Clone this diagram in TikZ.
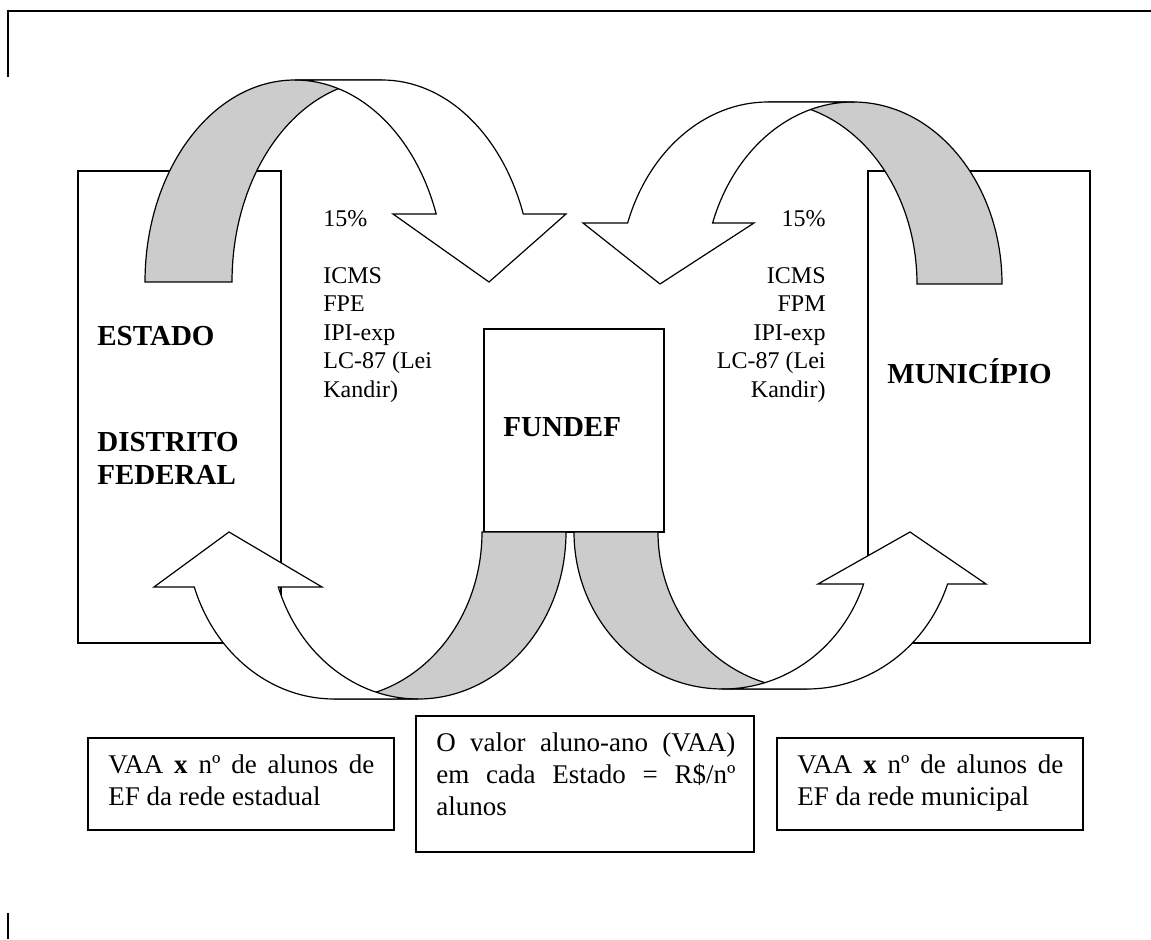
\documentclass[tikz,border=0pt]{standalone}
\usepackage{fontspec}
\setmainfont{Liberation Serif}

\begin{document}
\begin{tikzpicture}[x=0.5pt,y=0.5pt,
  frame/.style={line width=1pt},
  box/.style={line width=0.9pt},
  back/.style={draw,fill=black!20,line width=0.6pt},
  front/.style={draw,fill=white,line width=0.6pt},
  lst/.style={inner sep=0pt,font=\fontsize{12}{14.25}\selectfont},
  lbl/.style={inner sep=0pt,align=left,font=\fontsize{14.5}{16.5}\selectfont\bfseries},
  note/.style={inner sep=0pt,align=justify,font=\fontsize{13.5}{16}\selectfont}]
\useasboundingbox (0,0) rectangle (1151,939);

\draw[frame] (8,862) -- (8,928) -- (1151,928);
\draw[frame] (8,26) -- (8,0);

\draw[box] (78,296) rectangle (281,768);
\draw[box] (868,296) rectangle (1090,768);
\draw[box] (484,407) rectangle (664,610);
\draw[box] (88,109) rectangle (394,201);
\draw[box] (416,87) rectangle (754,223);
\draw[box] (777,109) rectangle (1083,201);

% estado -> fundef
\draw[back] (145,657) arc[start angle=180,end angle=90,x radius=75pt,y radius=101pt]
  -- (382,859) arc[start angle=90,end angle=180,x radius=75pt,y radius=101pt] -- cycle;
\draw[front] (295,859) -- (382,859) arc[start angle=90,end angle=19.67,x radius=75pt,y radius=101pt]
  -- (566,725) -- (489,657) -- (393,725) -- (436.2,725)
  arc[start angle=19.67,end angle=90,x radius=75pt,y radius=101pt] -- cycle;

% municipio -> fundef
\draw[back] (1002,655) arc[start angle=0,end angle=90,x radius=74.5pt,y radius=91pt]
  -- (768,837) arc[start angle=90,end angle=0,x radius=74.5pt,y radius=91pt] -- cycle;
\draw[front] (853,837) -- (768,837) arc[start angle=90,end angle=160.42,x radius=74.5pt,y radius=91pt]
  -- (583,716) -- (660,655) -- (754,716) -- (712.6,716)
  arc[start angle=160.42,end angle=90,x radius=74.5pt,y radius=91pt] -- cycle;

% fundef -> estado
\draw[back] (566,407) arc[start angle=0,end angle=-90,x radius=74pt,y radius=83.5pt]
  -- (334,240) arc[start angle=-90,end angle=0,x radius=74pt,y radius=83.5pt] -- cycle;
\draw[front] (418,240) -- (334,240) arc[start angle=270,end angle=199.23,x radius=74pt,y radius=83.5pt]
  -- (154,352) -- (229,407) -- (322,352) -- (278.3,352)
  arc[start angle=199.23,end angle=270,x radius=74pt,y radius=83.5pt] -- cycle;

% fundef -> municipio
\draw[back] (574,407) arc[start angle=180,end angle=270,x radius=74.5pt,y radius=78.5pt]
  -- (807,250) arc[start angle=270,end angle=180,x radius=74.5pt,y radius=78.5pt] -- cycle;
\draw[front] (723,250) -- (807,250) arc[start angle=270,end angle=340.66,x radius=74.5pt,y radius=78.5pt]
  -- (986,355) -- (910,407) -- (818,355) -- (863.6,355)
  arc[start angle=340.66,end angle=270,x radius=74.5pt,y radius=78.5pt] -- cycle;

\node[lst,anchor=base west,align=left] (impE) at (323,542)
  {15\%\\[14.25pt]ICMS\\FPE\\IPI-exp\\LC-87 (Lei\\Kandir)};
\node[lst,anchor=base east,align=right] (impM) at (826,542)
  {15\%\\[14.25pt]ICMS\\FPM\\IPI-exp\\LC-87 (Lei\\Kandir)};

\node[lbl,anchor=base west] (estado) at (97,594) {ESTADO};
\node[lbl,anchor=base west] (df) at (97,455) {DISTRITO\\FEDERAL};
\node[lbl,anchor=base west] (munic) at (887,556) {MUNICÍPIO};
\node[lbl,anchor=base west] (fundef) at (503,503) {FUNDEF};

\node[note,text width=133pt,anchor=base west] (vaaE) at (108,166)
  {VAA \textbf{x} nº de alunos de\linebreak EF da rede estadual};
\node[note,text width=149.5pt,anchor=base west] (vaa) at (436,188)
  {O valor aluno-ano (VAA)\linebreak em cada Estado = R\$/nº\linebreak alunos};
\node[note,text width=133pt,anchor=base west] (vaaM) at (797,166)
  {VAA \textbf{x} nº de alunos de\linebreak EF da rede municipal};
\end{tikzpicture}
\end{document}
